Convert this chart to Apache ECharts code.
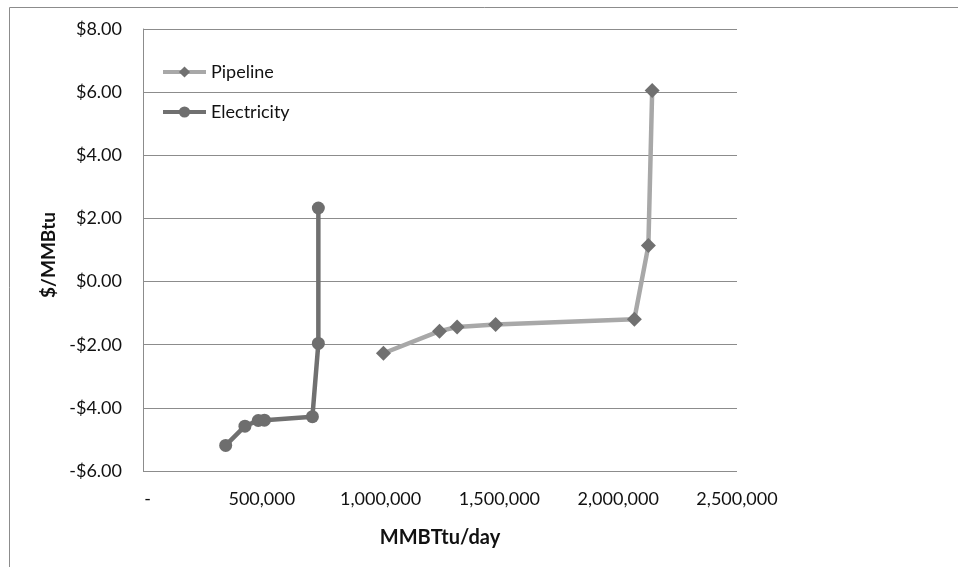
<!DOCTYPE html>
<html>
<head>
<meta charset="utf-8">
<script src="https://cdn.jsdelivr.net/npm/echarts@6/dist/echarts.min.js"></script>
<style>
  html, body { margin: 0; padding: 0; background: #ffffff; }
  #chart { width: 958px; height: 567px; }
</style>
</head>
<body>
<div id="chart"></div>
<script>
// Supply curves: cumulative volume (MMBTtu/day) vs. netback price ($/MMBtu)
const pipelineVolume = [1012000, 1248000, 1322000, 1484000, 2068000, 2127000, 2143000];
const pipelinePrice  = [-2.27, -1.57, -1.44, -1.36, -1.19, 1.14, 6.05];

const electricityVolume = [348000, 429000, 485000, 511000, 713000, 738000, 738000];
const electricityPrice  = [-5.19, -4.58, -4.40, -4.39, -4.28, -1.96, 2.33];

const xTicks = { min: 0, max: 2500000, step: 500000 };
const yTicks = { min: -6, max: 8, step: 2 };

const FONT = 'Lato, "Open Sans", sans-serif';
const TEXT = '#111111';

function pairs(xs, ys) { return xs.map((x, i) => [x, ys[i]]); }

function fmtVolume(v) {
  if (v === 0) return '  -';
  return v.toString().replace(/\B(?=(\d{3})+(?!\d))/g, ',');
}
function fmtDollar(v) {
  const s = '$' + Math.abs(v).toFixed(2);
  return v < 0 ? '-' + s : s;
}

const chart = echarts.init(document.getElementById('chart'), null, { renderer: 'canvas' });

chart.setOption({
  animation: false,
  backgroundColor: '#ffffff',
  graphic: [{
    type: 'rect',
    left: 7, top: 5,
    shape: { width: 1200, height: 900 },
    style: { fill: 'none', stroke: '#8c8c8c', lineWidth: 1 },
    silent: true, z: -1
  }],
  grid: { left: 143, top: 29, right: 221, bottom: 96, containLabel: false },
  legend: {
    left: 156, top: 58,
    orient: 'vertical',
    itemGap: 22,
    itemWidth: 43, itemHeight: 14,
    lineStyle: { width: 4 },
    textStyle: { fontFamily: FONT, fontSize: 18, color: TEXT },
    data: ['Pipeline', 'Electricity']
  },
  xAxis: {
    type: 'value',
    min: xTicks.min, max: xTicks.max, interval: xTicks.step,
    name: 'MMBTtu/day',
    nameLocation: 'middle',
    nameGap: 57,
    nameTextStyle: { fontFamily: FONT, fontSize: 20, fontWeight: 'bold', color: TEXT },
    axisLine: { show: false },
    axisTick: { show: false },
    splitLine: { show: false },
    axisLabel: { fontFamily: FONT, fontSize: 18, color: TEXT, margin: 19, formatter: fmtVolume }
  },
  yAxis: {
    type: 'value',
    min: yTicks.min, max: yTicks.max, interval: yTicks.step,
    name: '$/MMBtu',
    nameLocation: 'middle',
    nameGap: 84,
    nameTextStyle: { fontFamily: FONT, fontSize: 19, fontWeight: 'bold', color: TEXT, padding: [0, 10, 0, 0] },
    axisLine: { show: true, lineStyle: { color: '#8c8c8c', width: 1 } },
    axisTick: { show: false },
    splitLine: { show: true, lineStyle: { color: '#8c8c8c', width: 1 } },
    axisLabel: { fontFamily: FONT, fontSize: 18, color: TEXT, margin: 21, formatter: fmtDollar }
  },
  series: [
    {
      name: 'Pipeline',
      type: 'line',
      data: pairs(pipelineVolume, pipelinePrice),
      symbol: 'diamond',
      symbolSize: 15,
      itemStyle: { color: '#707070' },
      lineStyle: { color: '#a8a8a8', width: 4.5 },
      z: 3
    },
    {
      name: 'Electricity',
      type: 'line',
      data: pairs(electricityVolume, electricityPrice),
      symbol: 'circle',
      symbolSize: 13,
      itemStyle: { color: '#6e6e6e' },
      lineStyle: { color: '#707070', width: 4.5 },
      z: 3
    }
  ]
});
</script>
</body>
</html>
